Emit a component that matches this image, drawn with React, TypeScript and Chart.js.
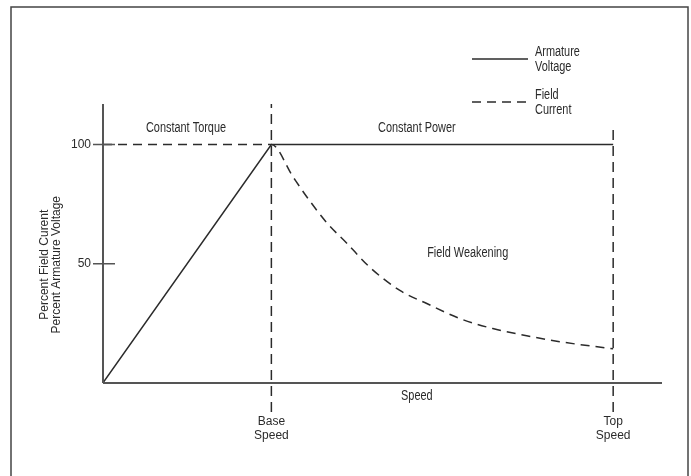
import React, { useEffect, useRef } from "react";
import { Chart, registerables } from "chart.js";

Chart.register(...registerables);

// ---- data ----
const speedTickValues = [100, 303];
const speedTickLabels = [["Base", "Speed"], ["Top", "Speed"]];
const percentTickValues = [50, 100];

const armatureSpeed = [0, 100, 303];
const armatureVoltage = [0, 100, 100];

const fieldSpeed = [0, 100, 112.8, 121, 133, 144.8, 158.5, 176.3, 192.3, 211.9, 231.5, 251.6, 271.2, 303];
const fieldCurrent = [100, 100, 86.5, 78.1, 67.1, 58.6, 48.5, 38.8, 33.3, 27, 22.8, 19.8, 17.3, 14.3];

const markerSpeeds = [100, 303];
const markerTops = [117, 107.6];
const markerBottom = -12.2;

const regionLabels = ["Constant Torque", "Constant Power", "Field Weakening", "Speed"];
const regionLabelX = [49.3, 186.4, 216.6, 186.4];
const regionLabelY = [107, 107, 54.6, -5.5];

const yTitleLines = ["Percent Field Curent", "Percent Armature Voltage"];
const yTitleCenterValue = 50;

const legendLabels = [["Armature", "Voltage"], ["Field", "Current"]];

const X_MIN = 0;
const X_MAX = 332;
const Y_MIN = -12.2;
const Y_MAX = 117;

const INK = "#2b2b2b";
const AXIS = "#555555";
const REGULAR = "'Liberation Sans', Arial, sans-serif";
const NARROW_SCALE = 0.78;

const toPoints = (xs: number[], ys: number[]) => xs.map((x, i) => ({ x, y: ys[i] }));

function drawNarrow(ctx: CanvasRenderingContext2D, text: string, x: number, y: number, align: CanvasTextAlign) {
  ctx.save();
  ctx.translate(x, y);
  ctx.scale(NARROW_SCALE, 1);
  ctx.textAlign = align;
  ctx.fillText(text, 0, 0);
  ctx.restore();
}

const overlayPlugin = {
  id: "overlay",
  afterDraw(chart: any) {
    const { ctx } = chart;
    const xs = chart.scales.x;
    const ys = chart.scales.y;
    const px = (v: number) => xs.getPixelForValue(v);
    const py = (v: number) => ys.getPixelForValue(v);
    ctx.save();

    // frame
    ctx.strokeStyle = "#444";
    ctx.lineWidth = 1.5;
    ctx.strokeRect(11, 7, 677, 480);

    // axes
    ctx.strokeStyle = AXIS;
    ctx.lineWidth = 2;
    ctx.setLineDash([]);
    ctx.beginPath();
    ctx.moveTo(px(0), py(0));
    ctx.lineTo(px(X_MAX), py(0));
    ctx.moveTo(px(0), py(0));
    ctx.lineTo(px(0), py(Y_MAX));
    ctx.stroke();

    // y ticks
    ctx.lineWidth = 1.5;
    ctx.beginPath();
    percentTickValues.forEach((v) => {
      ctx.moveTo(px(0) - 10, py(v));
      ctx.lineTo(px(0) + 12, py(v));
    });
    ctx.stroke();

    // region labels
    ctx.fillStyle = INK;
    ctx.font = `14px ${REGULAR}`;
    ctx.textBaseline = "middle";
    regionLabels.forEach((t, i) => {
      drawNarrow(ctx, t, px(regionLabelX[i]), py(regionLabelY[i]), "center");
    });

    // y title
    ctx.font = `12px ${REGULAR}`;
    ctx.textAlign = "center";
    const cy = py(yTitleCenterValue) + 1;
    [45, 57].forEach((x, i) => {
      ctx.save();
      ctx.translate(x, cy);
      ctx.rotate(-Math.PI / 2);
      ctx.fillText(yTitleLines[i], 0, 0);
      ctx.restore();
    });

    // legend
    const datasets = chart.data.datasets;
    const rows = [59, 102];
    rows.forEach((y, i) => {
      const ds = datasets[i];
      ctx.strokeStyle = ds.borderColor;
      ctx.lineWidth = 1.5;
      ctx.setLineDash(ds.borderDash || []);
      ctx.beginPath();
      ctx.moveTo(472, y);
      ctx.lineTo(528, y);
      ctx.stroke();
      ctx.setLineDash([]);
      ctx.fillStyle = INK;
      ctx.font = `14px ${REGULAR}`;
      ctx.textBaseline = "middle";
      legendLabels[i].forEach((line, j) => {
        drawNarrow(ctx, line, 535, y - 7 + j * 15, "left");
      });
    });

    ctx.restore();
  },
};

export default function App() {
  const ref = useRef<HTMLCanvasElement | null>(null);

  useEffect(() => {
    if (!ref.current) return;
    const chart = new Chart(ref.current, {
      type: "line",
      data: {
        datasets: [
          {
            label: "Armature Voltage",
            data: toPoints(armatureSpeed, armatureVoltage),
            borderColor: INK,
            borderWidth: 1.5,
            pointRadius: 0,
          },
          {
            label: "Field Current",
            data: toPoints(fieldSpeed, fieldCurrent),
            borderColor: INK,
            borderWidth: 1.5,
            borderDash: [9, 6],
            pointRadius: 0,
            cubicInterpolationMode: "monotone",
          },
          ...markerSpeeds.map((s, i) => ({
            label: `marker${i}`,
            data: [
              { x: s, y: markerBottom },
              { x: s, y: markerTops[i] },
            ],
            borderColor: INK,
            borderWidth: 1.5,
            borderDash: [10, 6],
            pointRadius: 0,
          })),
        ],
      } as any,
      options: {
        animation: false,
        responsive: false,
        maintainAspectRatio: false,
        layout: { padding: { left: 0, right: 29, top: 104, bottom: 0 } },
        plugins: { legend: { display: false }, tooltip: { enabled: false } },
        scales: {
          x: {
            type: "linear",
            min: X_MIN,
            max: X_MAX,
            grid: { display: false, drawTicks: false },
            border: { display: false },
            afterBuildTicks: (s: any) => {
              s.ticks = speedTickValues.map((v) => ({ value: v }));
            },
            afterFit: (s: any) => {
              s.height = 64;
            },
            ticks: {
              autoSkip: false,
              maxRotation: 0,
              padding: 3,
              color: INK,
              font: { family: REGULAR, size: 12, lineHeight: 1.15 },
              callback: (_v: any, i: number) => speedTickLabels[i],
            },
          },
          y: {
            type: "linear",
            min: Y_MIN,
            max: Y_MAX,
            grid: { display: false, drawTicks: false },
            border: { display: false },
            afterBuildTicks: (s: any) => {
              s.ticks = percentTickValues.map((v) => ({ value: v }));
            },
            afterFit: (s: any) => {
              s.width = 103;
            },
            ticks: {
              padding: 12,
              color: INK,
              font: { family: REGULAR, size: 12 },
              callback: (v: any) => String(v),
            },
          },
        },
      } as any,
      plugins: [overlayPlugin],
    });
    return () => chart.destroy();
  }, []);

  return (
    <div style={{ position: "absolute", left: 0, top: 0, width: 691, height: 476, background: "#fff" }}>
      <canvas ref={ref} width={691} height={476} style={{ display: "block", width: 691, height: 476 }} />
    </div>
  );
}
